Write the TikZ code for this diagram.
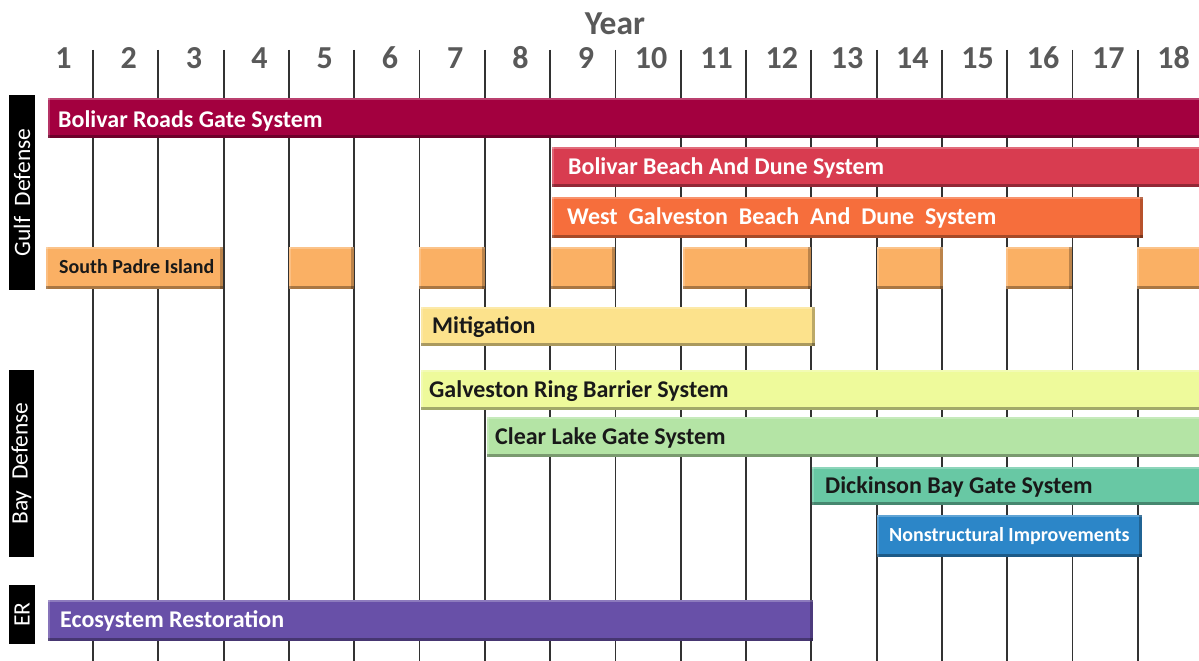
\documentclass[tikz,border=0pt]{standalone}
\usepackage{fontspec}
\setmainfont{Carlito}
\definecolor{gridc}{RGB}{50,50,50}
\definecolor{headc}{RGB}{89,89,89}
\definecolor{txtd}{RGB}{25,25,25}
\definecolor{cBR}{RGB}{163,0,63}
\definecolor{cBB}{RGB}{216,60,80}
\definecolor{cWG}{RGB}{246,110,60}
\definecolor{cSP}{RGB}{250,176,100}
\definecolor{cMI}{RGB}{252,226,140}
\definecolor{cGR}{RGB}{238,250,155}
\definecolor{cCL}{RGB}{180,228,165}
\definecolor{cDB}{RGB}{104,200,164}
\definecolor{cNS}{RGB}{44,134,200}
\definecolor{cER}{RGB}{104,80,168}
\begin{document}
\begin{tikzpicture}[x=1pt,y=-1pt,
  grid/.style={draw=gridc, line width=1.8pt},
  bar/.style={rectangle, anchor=north west, inner sep=0pt, draw=none,
    path picture={
      \fill[white,opacity=.25] (path picture bounding box.north west) rectangle ([yshift=-2pt]path picture bounding box.north east);
      \fill[white,opacity=.2] (path picture bounding box.north west) rectangle ([xshift=2pt]path picture bounding box.south west);
      \fill[black,opacity=.25] ([xshift=-3pt]path picture bounding box.south east) rectangle (path picture bounding box.north east);
      \fill[black,opacity=.32] ([yshift=3.5pt]path picture bounding box.south west) rectangle (path picture bounding box.south east);
    }},
  lbl/.style={anchor=west, inner sep=0pt, font=\bfseries\fontsize{24}{28}\selectfont, text height=17pt, text depth=3pt},
  slbl/.style={lbl, font=\bfseries\fontsize{20}{23}\selectfont, text height=14pt, text depth=2.5pt},
  side/.style={rectangle, fill=black, inner sep=0pt, rotate=90, text=white, font=\fontsize{23.5}{26}\selectfont},
  yr/.style={inner sep=0pt, text=headc, font=\bfseries\fontsize{32}{36}\selectfont}
]
\useasboundingbox[fill=white] (0,0) rectangle (1199,661);
% grid lines
\foreach \k in {0,...,16} \draw[grid] ({93+65.3*\k},50) -- ({93+65.3*\k},661);
% header
\node[yr, font=\bfseries\fontsize{33.5}{36}\selectfont] (year) at (615,24) {Year};
\foreach \n in {1,...,18} \node[yr] (y\n) at ({63.5+65.3*(\n-1)},58) {\n};
% side labels
\node[side, minimum width=195, minimum height=26] (gulf) at (22,192.5) {Gulf\ \ Defense};
\node[side, minimum width=187, minimum height=25] (bay) at (21.5,463.5) {Bay\ \ Defense};
\node[side, minimum width=59, minimum height=26] (er) at (22,614.5) {ER};
% bars
\node[bar, fill=cBR, minimum width=1165, minimum height=40] (b1) at (48,98) {};
\node[lbl, text=white] (t1) at ([xshift=10pt,yshift=-2pt]b1.west) {Bolivar Roads Gate System};
\node[bar, fill=cBB, minimum width=660, minimum height=40] (b2) at (552,147) {};
\node[lbl, text=white] (t2) at ([xshift=16pt]b2.west) {Bolivar Beach And Dune System};
\node[bar, fill=cWG, minimum width=591, minimum height=41] (b3) at (552,197) {};
\node[lbl, text=white] (t3) at ([xshift=15pt]b3.west) {West\ \ Galveston\ \ Beach\ \ And\ \ Dune\ \ System};
\node[bar, fill=cSP, minimum width=177, minimum height=42] (sp1) at (46,247) {};
\node[slbl, text=txtd] (tsp) at ([xshift=13pt]sp1.west) {South Padre Island};
\node[bar, fill=cSP, minimum width=65, minimum height=42] (sp2) at (289,247) {};
\node[bar, fill=cSP, minimum width=66, minimum height=42] (sp3) at (419,247) {};
\node[bar, fill=cSP, minimum width=64, minimum height=42] (sp4) at (551,247) {};
\node[bar, fill=cSP, minimum width=128, minimum height=42] (sp5) at (683,247) {};
\node[bar, fill=cSP, minimum width=66, minimum height=42] (sp6) at (877,247) {};
\node[bar, fill=cSP, minimum width=66, minimum height=42] (sp7) at (1006,247) {};
\node[bar, fill=cSP, minimum width=80, minimum height=42] (sp8) at (1137,247) {};
\node[bar, fill=cMI, minimum width=394, minimum height=39] (b5) at (421,307) {};
\node[lbl, text=txtd] (t5) at ([xshift=11pt]b5.west) {Mitigation};
\node[bar, fill=cGR, minimum width=800, minimum height=40] (b6) at (421,370) {};
\node[lbl, text=txtd] (t6) at ([xshift=8pt]b6.west) {Galveston Ring Barrier System};
\node[bar, fill=cCL, minimum width=730, minimum height=40] (b7) at (487,417) {};
\node[lbl, text=txtd] (t7) at ([xshift=8pt]b7.west) {Clear Lake Gate System};
\node[bar, fill=cDB, minimum width=400, minimum height=38] (b8) at (812,467) {};
\node[lbl, text=txtd] (t8) at ([xshift=13pt]b8.west) {Dickinson Bay Gate System};
\node[bar, fill=cNS, minimum width=265, minimum height=42] (b9) at (877,515) {};
\node[slbl, text=white] (t9) at ([xshift=12pt]b9.west) {Nonstructural Improvements};
\node[bar, fill=cER, minimum width=765, minimum height=41] (b10) at (48,600) {};
\node[lbl, text=white] (t10) at ([xshift=12pt]b10.west) {Ecosystem Restoration};
\end{tikzpicture}
\end{document}
